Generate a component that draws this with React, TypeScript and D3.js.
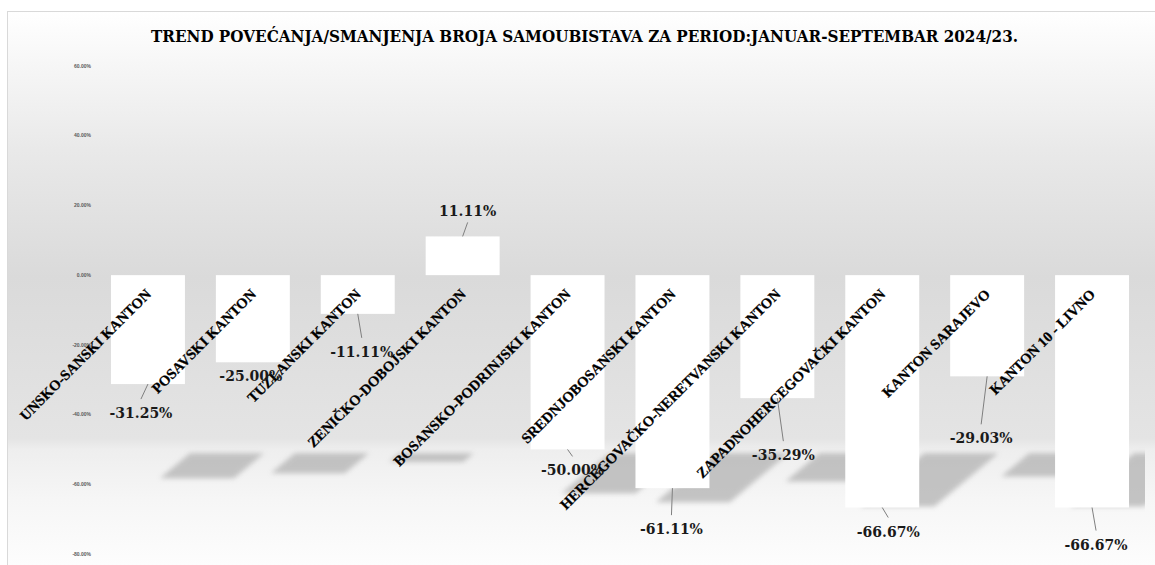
import React from 'react';
import * as d3 from 'd3';

const categories = [
  'UNSKO-SANSKI KANTON',
  'POSAVSKI KANTON',
  'TUZLANSKI KANTON',
  'ZENIČKO-DOBOJSKI KANTON',
  'BOSANSKO-PODRINJSKI KANTON',
  'SREDNJOBOSANSKI KANTON',
  'HERCEGOVAČKO-NERETVANSKI KANTON',
  'ZAPADNOHERCEGOVAČKI KANTON',
  'KANTON SARAJEVO',
  'KANTON 10 - LIVNO',
];
const values = [-31.25, -25.0, -11.11, 11.11, -50.0, -61.11, -35.29, -66.67, -29.03, -66.67];
const yTickValues = [-80, -60, -40, -20, 0, 20, 40, 60];
const title = 'TREND POVEĆANJA/SMANJENJA BROJA SAMOUBISTAVA ZA PERIOD:JANUAR-SEPTEMBAR 2024/23.';

// manual data-label offsets (layout, px) relative to bar end
const labelOffsets: [number, number][] = [
  [-7, 34], [-2, 19], [4, 43], [5, -20], [5, 26], [-1, 46], [6, 62], [6, 29], [-6, 67], [4, 42],
];

const W = 1155;
const H = 565;

export default function App() {
  const x = d3
    .scaleBand<string>()
    .domain(categories)
    .range([95.5, 1144.5])
    .paddingInner(0.295)
    .paddingOuter(0.1475);
  const y = d3.scaleLinear().domain([-80, 60]).range([554, 66]);
  const y0 = y(0);
  const fmtTick = (v: number) => d3.format('.2f')(v).replace('−', '-') + '%';
  const fmtVal = (v: number) => d3.format('.2f')(v).replace('−', '-') + '%';
  const bw = x.bandwidth();
  const shadowTop = y0 + 178;

  return (
    <svg
      width={W}
      height={H}
      style={{ position: 'absolute', left: 0, top: 0, display: 'block' }}
    >
      <defs>
        <linearGradient id="bg" gradientUnits="userSpaceOnUse" x1="0" y1="11" x2="0" y2="566">
          <stop offset={0} stopColor="#ffffff" />
          <stop offset={0.09} stopColor="#f7f7f7" />
          <stop offset={0.25} stopColor="#e9e9e9" />
          <stop offset={0.48} stopColor="#dadada" />
          <stop offset={0.77} stopColor="#e4e4e4" />
          <stop offset={0.79} stopColor="#eeeeee" />
          <stop offset={0.88} stopColor="#f6f6f6" />
          <stop offset={1} stopColor="#fdfdfd" />
        </linearGradient>
        <filter id="blur" x="-20%" y="-50%" width="140%" height="200%">
          <feGaussianBlur stdDeviation={2.8} />
        </filter>
        <clipPath id="plotClip">
          <rect x={95.5} y={50} width={1049.5} height={512} />
        </clipPath>
      </defs>
      <rect x={0} y={0} width={W} height={H} fill="#ffffff" />
      <rect x={7.5} y={11.5} width={1160} height={560} fill="url(#bg)" stroke="#d9d9d9" strokeWidth={1} />

      <text
        x={584.5}
        y={42}
        textAnchor="middle"
        fontFamily="'DejaVu Serif', serif"
        fontWeight="bold"
        fontSize={17}
        textLength={867}
        lengthAdjust="spacingAndGlyphs"
        fill="#000"
      >
        {title}
      </text>

      {yTickValues.map((t) => (
        <text
          key={t}
          x={91}
          y={y(t)}
          dy="0.35em"
          textAnchor="end"
          fontFamily="'Liberation Sans', sans-serif"
          fontWeight="bold"
          fontSize={5}
          fill="#595959"
        >
          {fmtTick(t)}
        </text>
      ))}

      <g clipPath="url(#plotClip)">
        {categories.map((c, i) => {
          const v = values[i];
          if (v >= 0) return null;
          const x0 = x(c)! + 79;
          const x1 = x0 + bw;
          const h = y(v) - y0;
          const sx = -0.275 * h;
          const sh = 0.23 * h;
          const pts = [
            [x0, shadowTop],
            [x1, shadowTop],
            [x1 + sx, shadowTop + sh],
            [x0 + sx, shadowTop + sh],
          ];
          return (
            <polygon
              key={c}
              points={pts.map((p) => p.join(',')).join(' ')}
              fill="#b5b5b5"
              opacity={0.78}
              filter="url(#blur)"
            />
          );
        })}
      </g>

      {categories.map((c, i) => {
        const v = values[i];
        const top = Math.min(y(v), y0);
        const hh = Math.abs(y(v) - y0);
        return <rect key={c} x={x(c)!} y={top} width={bw} height={hh} fill="#ffffff" />;
      })}

      {categories.map((c, i) => {
        const cx = x(c)! + bw / 2;
        const bx = cx + 4;
        const by = y0 + 20;
        return (
          <text
            key={c}
            transform={`translate(${bx},${by}) rotate(-45)`}
            textAnchor="end"
            fontFamily="'Liberation Serif', serif"
            fontWeight="bold"
            fontSize={14.6}
            stroke="#000"
            strokeWidth={0.25}
            fill="#000"
          >
            {c}
          </text>
        );
      })}

      {categories.map((c, i) => {
        const v = values[i];
        const cx = x(c)! + bw / 2;
        const ye = y(v);
        const [dx, dy] = labelOffsets[i];
        const lx = cx + dx;
        const ly = ye + dy;
        const neg = v < 0;
        const leadEnd = neg ? ly - 19 : ly + 6;
        const needLeader = neg ? leadEnd - ye > 3 : ye - leadEnd > 3;
        return (
          <g key={c}>
            {needLeader && (
              <line x1={cx} y1={ye} x2={lx} y2={leadEnd} stroke="#7f7f7f" strokeWidth={1} />
            )}
            <text
              x={lx}
              y={ly}
              textAnchor="middle"
              fontFamily="'DejaVu Serif', serif"
              fontWeight="bold"
              fontSize={14}
              fill="#1a1a1a"
            >
              {fmtVal(v)}
            </text>
          </g>
        );
      })}
    </svg>
  );
}
